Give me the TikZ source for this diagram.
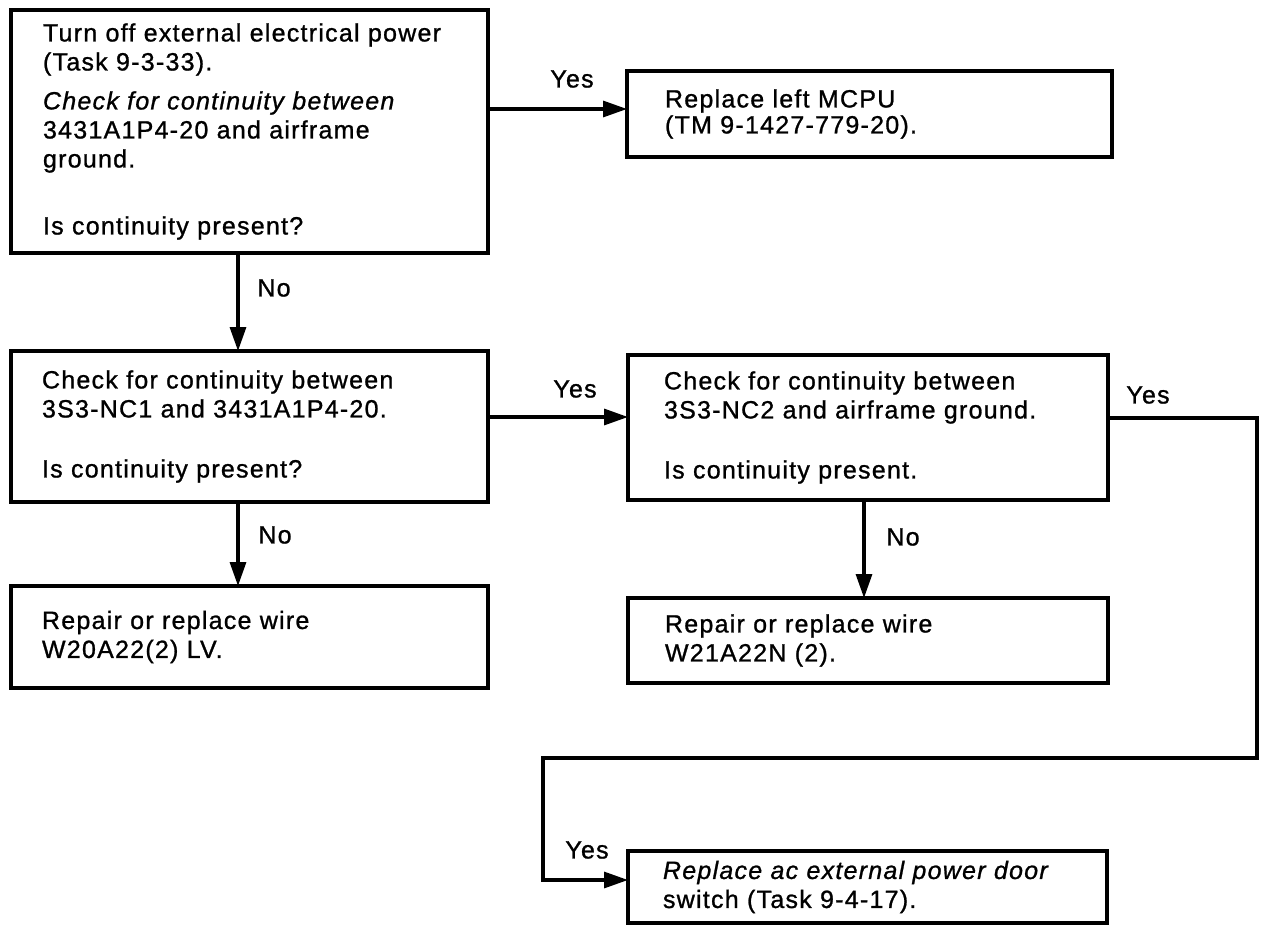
\documentclass[tikz,border=0pt]{standalone}
\usepackage{fontspec}
\setmainfont{Liberation Sans}[LetterSpace=5,FakeBold=1.0]
\usetikzlibrary{arrows.meta}
\begin{document}
\begin{tikzpicture}[x=1pt,y=-1pt,
  box/.style={draw, line width=3.2pt, rectangle, anchor=north west, inner ysep=0pt, outer sep=0pt, align=left, font=\fontsize{25}{29}\selectfont},
  flow/.style={line width=3.2pt, -{Triangle[length=24pt,width=16pt]}},
  lbl/.style={font=\fontsize{25}{28}\selectfont, inner sep=0pt}]
\fill[white] (0,0) rectangle (1262,926);
\useasboundingbox (0,0) rectangle (1262,926);

\node[box, inner xsep=32pt, text width=413pt, minimum height=243pt] (b1) at (11,10)
  {Turn off external electrical power\\(Task 9-3-33).\\[10pt]\textit{Check for continuity between}\\3431A1P4-20 and airframe\\ground.\\[38pt]Is continuity present?};
\node[box, inner xsep=38pt, text width=409pt, minimum height=86pt, font=\fontsize{25}{26}\selectfont] (b2) at (627,71)
  {Replace left MCPU\\(TM 9-1427-779-20).};
\node[box, inner xsep=31pt, text width=415pt, minimum height=151pt] (b3) at (11,351)
  {Check for continuity between\\3S3-NC1 and 3431A1P4-20.\\[31pt]Is continuity present?};
\node[box, inner xsep=36pt, text width=408pt, minimum height=145pt] (b4) at (628,355)
  {Check for continuity between\\3S3-NC2 and airframe ground.\\[31pt]Is continuity present.};
\node[box, inner xsep=31pt, text width=415pt, minimum height=102pt] (b5) at (11,586)
  {Repair or replace wire\\W20A22(2) LV.};
\node[box, inner xsep=37pt, text width=406pt, minimum height=85pt] (b6) at (628,598)
  {Repair or replace wire\\W21A22N (2).};
\node[box, inner xsep=35pt, text width=409pt, minimum height=72pt] (b7) at (628,851)
  {\textit{Replace ac external power door}\\switch (Task 9-4-17).};

\draw[flow] (b1.east |- 0,109) -- (b2.west |- 0,109);
\draw[flow] (b1.south -| 238,0) -- (b3.north -| 238,0);
\draw[flow] (b3.east |- 0,417) -- (b4.west |- 0,417);
\draw[flow] (b3.south -| 238,0) -- (b5.north -| 238,0);
\draw[flow] (b4.south -| 864,0) -- (b6.north -| 864,0);
\coordinate (c1) at (1257,418);
\coordinate (c2) at (1257,758);
\coordinate (c3) at (543,758);
\coordinate (c4) at (543,880);
\draw[flow] (b4.east |- c1) -- (c1) -- (c2) -- (c3) -- (c4) -- (b7.west |- c4);

\node[lbl] (y1) at (572,79) {Yes};
\node[lbl] (n1) at (274,288) {No};
\node[lbl] (y2) at (575,389) {Yes};
\node[lbl] (n2) at (275,535) {No};
\node[lbl] (n3) at (903,537) {No};
\node[lbl] (y3) at (1148,395) {Yes};
\node[lbl] (y4) at (587,850) {Yes};
\end{tikzpicture}
\end{document}
